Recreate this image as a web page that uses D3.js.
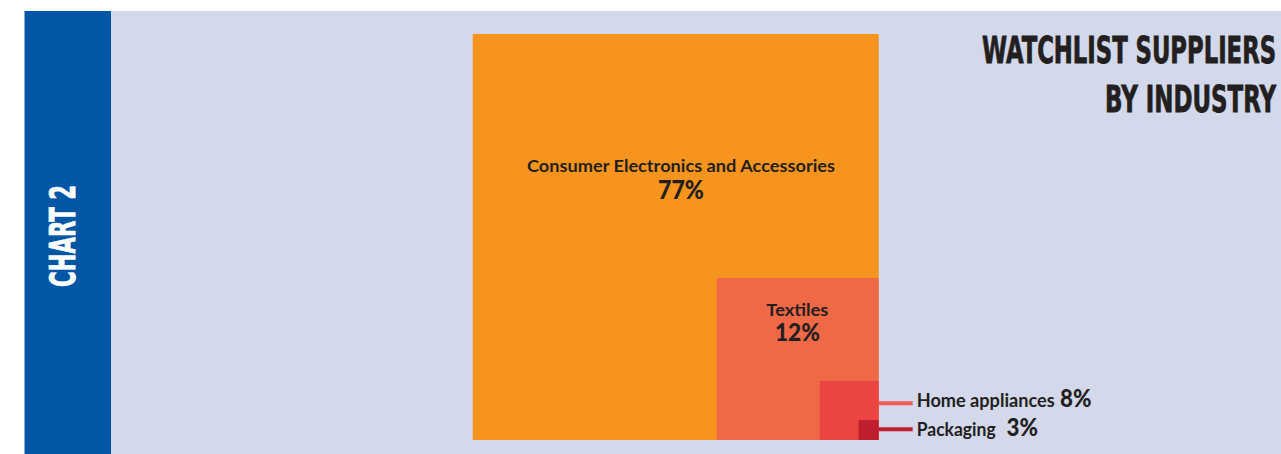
<!DOCTYPE html>
<html>
<head>
<meta charset="utf-8">
<script src="https://cdn.jsdelivr.net/npm/d3@7"></script>
<style>
  html, body { margin: 0; padding: 0; background: #ffffff; }
  svg { display: block; }
</style>
</head>
<body>
<svg id="chart" width="1281" height="454"></svg>
<script>
// Watchlist suppliers by industry, share of suppliers (%)
const categories = ["Consumer Electronics and Accessories", "Textiles", "Home appliances", "Packaging"];
const shares = [77, 12, 8, 3];
const fills = ["#F7941D", "#F06947", "#EB4541", "#BE1E2D"];
const leaderColors = [null, null, "#EE5B55", "#C01F2F"];
const titleLines = ["WATCHLIST SUPPLIERS", "BY INDUSTRY"];
const sideLabel = "CHART 2";

const W = 1281, H = 454;
const svg = d3.select("#chart");
const displayFont = "'DejaVu Sans Condensed', 'DejaVu Sans', sans-serif";

// squeeze a text horizontally to a target width (keeps its bbox honest)
function fitWidth(sel, target) {
  const n = sel.node().getComputedTextLength();
  return target / n;
}

// page panels
svg.append("rect").attr("x", 111).attr("y", 11).attr("width", W - 111).attr("height", H - 11).attr("fill", "#D3D8EB");
svg.append("rect").attr("x", 24.5).attr("y", 11).attr("width", 86.5).attr("height", H - 11).attr("fill", "#0157A6");

// vertical side label
const side2 = svg.append("text")
  .attr("text-anchor", "middle")
  .attr("font-family", displayFont)
  .attr("font-weight", "bold")
  .attr("font-size", 36)
  .attr("fill", "#ffffff")
  .attr("stroke", "#ffffff").attr("stroke-width", 0.8)
  .text(sideLabel);
side2.attr("transform", `translate(75,236) rotate(-90) scale(${fitWidth(side2, 102)},1)`);

// title, right aligned
const titleY = [62.5, 111.5], titleW = [294, 171];
svg.selectAll("text.title").data(titleLines).join("text")
  .attr("class", "title")
  .attr("text-anchor", "end")
  .attr("font-family", displayFont)
  .attr("font-weight", "bold")
  .attr("font-size", 37)
  .attr("fill", "#231F20")
  .attr("stroke", "#231F20").attr("stroke-width", 0.8)
  .text(d => d)
  .each(function (d, i) {
    const t = d3.select(this);
    t.attr("transform", `translate(1276,${titleY[i]}) scale(${fitWidth(t, titleW[i])},1)`);
  });

// nested squares anchored to the bottom-right corner
const corner = { x: 878.7, y: 440 };
const side = d3.scaleLinear()
  .domain([0, 3, 8, 12, 77])
  .range([0, 20, 59, 162, 406]);

const rows = categories.map((c, i) => ({ name: c, value: shares[i], fill: fills[i], leader: leaderColors[i], i }));

svg.selectAll("rect.sq").data(rows).join("rect")
  .attr("class", "sq")
  .attr("x", d => corner.x - side(d.value))
  .attr("y", d => corner.y - side(d.value))
  .attr("width", d => side(d.value))
  .attr("height", d => side(d.value))
  .attr("fill", d => d.fill);

const font = "Lato, 'Open Sans', sans-serif";
const ink = "#231F20";

// labels inside the two large squares
const inside = [
  { fx: 0.513, fy: 0.34, nameSize: 17.5, nameW: 308, pctDy: 27, pctSize: 26, pctW: 46 },
  { fx: 0.498, fy: 0.235, nameSize: 17.5, nameW: 62, pctDy: 25, pctSize: 24, pctW: 45 }
];
inside.forEach((L, i) => {
  const d = rows[i], s = side(d.value);
  const x0 = corner.x - s, y0 = corner.y - s;
  const cx = x0 + s * L.fx, by = y0 + s * L.fy;
  svg.append("text")
    .attr("x", cx).attr("y", by)
    .attr("text-anchor", "middle")
    .attr("font-family", font).attr("font-weight", "bold")
    .attr("font-size", L.nameSize)
    .attr("textLength", L.nameW).attr("lengthAdjust", "spacingAndGlyphs")
    .attr("fill", ink)
    .text(d.name);
  svg.append("text")
    .attr("x", cx).attr("y", by + L.pctDy)
    .attr("text-anchor", "middle")
    .attr("font-family", font).attr("font-weight", "900")
    .attr("font-size", L.pctSize)
    .attr("textLength", L.pctW).attr("lengthAdjust", "spacingAndGlyphs")
    .attr("fill", ink)
    .text(d.value + "%");
});

// leader lines and outside labels for the small squares
const outside = [
  { row: 2, lineDy: 22.3, baseDy: 4, nameW: 138, pctX: 1060, pctW: 31.5 },
  { row: 3, lineDy: 9.3, baseDy: 6.5, nameW: 79, pctX: 1006.5, pctW: 31.5 }
];
outside.forEach(L => {
  const d = rows[L.row], s = side(d.value);
  const ly = corner.y - s + L.lineDy;
  svg.append("line")
    .attr("x1", corner.x).attr("x2", 912.7)
    .attr("y1", ly).attr("y2", ly)
    .attr("stroke", d.leader).attr("stroke-width", 4);
  svg.append("text")
    .attr("x", 916.7).attr("y", ly + L.baseDy)
    .attr("font-family", font).attr("font-weight", "bold")
    .attr("font-size", 19)
    .attr("textLength", L.nameW).attr("lengthAdjust", "spacingAndGlyphs")
    .attr("fill", ink)
    .text(d.name);
  svg.append("text")
    .attr("x", L.pctX).attr("y", ly + L.baseDy)
    .attr("font-family", font).attr("font-weight", "900")
    .attr("font-size", 24)
    .attr("textLength", L.pctW).attr("lengthAdjust", "spacingAndGlyphs")
    .attr("fill", ink)
    .text(d.value + "%");
});
</script>
</body>
</html>
